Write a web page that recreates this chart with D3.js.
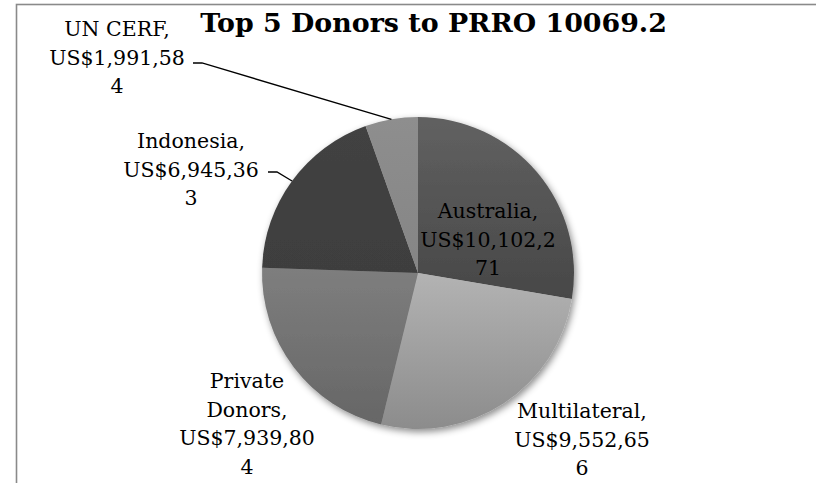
<!DOCTYPE html>
<html>
<head>
<meta charset="utf-8">
<script src="https://cdn.jsdelivr.net/npm/d3@7"></script>
<style>
  html, body { margin: 0; padding: 0; background: #fff; }
  svg { display: block; }
  text { font-family: "DejaVu Serif", Georgia, serif; fill: #000; }
</style>
</head>
<body>
<svg id="chart" width="816" height="483"></svg>
<script>
// Donor names and contributions (US$)
const donors = ["Australia", "Multilateral", "Private Donors", "Indonesia", "UN CERF"];
const amounts = [10102271, 9552656, 7939804, 6945363, 1991584];
const chartTitle = "Top 5 Donors to PRRO 10069.2";

// Slice shading: lighter at the top of each slice, darker at the bottom
const shadeTop = ["#616161", "#b3b3b3", "#7e7e7e", "#424242", "#8e8e8e"];
const shadeBottom = ["#474747", "#8c8c8c", "#666666", "#3e3e3e", "#858585"];

// Label placement: centre x and first baseline of each label block
const labelX = [488, 582, 247, 191, 117];
const labelY = [218, 418, 388, 148, 36];
// Leader line start (label side) for labels placed away from their slice
const leaderStart = [null, null, null, [268, 172], [193, 63]];

const svg = d3.select("#chart");
const W = 816, H = 483;
const cx = 418, cy = 273, radius = 156;
const fontSize = 20.5, lineGap = 28.5, wrapWidth = 140;

// Chart area frame
svg.append("rect")
  .attr("x", 16.5).attr("y", 4.5)
  .attr("width", W + 20).attr("height", H + 20)
  .attr("fill", "#fff")
  .attr("stroke", "#8a8a8a")
  .attr("stroke-width", 1.6);

const defs = svg.append("defs");
const shadow = defs.append("filter").attr("id", "pieShadow")
  .attr("x", "-20%").attr("y", "-20%").attr("width", "140%").attr("height", "140%");
shadow.append("feDropShadow")
  .attr("dx", 2).attr("dy", 3).attr("stdDeviation", 3.5)
  .attr("flood-color", "#000").attr("flood-opacity", 0.45);

donors.forEach((d, i) => {
  const g = defs.append("linearGradient").attr("id", "shade" + i)
    .attr("x1", 0).attr("y1", 0).attr("x2", 0).attr("y2", 1);
  g.append("stop").attr("offset", "0%").attr("stop-color", shadeTop[i]);
  g.append("stop").attr("offset", "100%").attr("stop-color", shadeBottom[i]);
});

const rows = donors.map((name, i) => ({ name, value: amounts[i], i }));
const pie = d3.pie().value(d => d.value).sort(null);
const arcs = pie(rows);
const arc = d3.arc().innerRadius(0).outerRadius(radius);

const pieG = svg.append("g")
  .attr("transform", `translate(${cx},${cy})`)
  .attr("filter", "url(#pieShadow)");

pieG.selectAll("path")
  .data(arcs)
  .join("path")
  .attr("d", arc)
  .attr("fill", d => `url(#shade${d.data.i})`);

// Title
const title = svg.append("text")
  .attr("x", 433.5).attr("y", 32)
  .attr("text-anchor", "middle")
  .attr("font-weight", "bold")
  .attr("font-size", 20)
  .text(chartTitle);
const tw = title.node().getComputedTextLength();
title.attr("font-size", 20 * 467 / tw);

// Wrap a label into lines no wider than wrapWidth, breaking long words by character
const measurer = svg.append("text").attr("font-size", fontSize).attr("opacity", 0);
function widthOf(s) { measurer.text(s); return measurer.node().getComputedTextLength(); }
function wrap(str) {
  const words = str.split(" ");
  const lines = [];
  let cur = "";
  words.forEach(w => {
    const trial = cur ? cur + " " + w : w;
    if (widthOf(trial) <= wrapWidth) { cur = trial; return; }
    if (cur) { lines.push(cur); cur = ""; }
    let piece = "";
    for (const ch of w) {
      if (widthOf(piece + ch) <= wrapWidth) piece += ch;
      else { lines.push(piece); piece = ch; }
    }
    cur = piece;
  });
  if (cur) lines.push(cur);
  return lines;
}
const money = d3.format(",");

// Leader lines from label to the middle of the slice's outer edge
const edge = d3.arc().innerRadius(radius).outerRadius(radius);
arcs.forEach(a => {
  const s = leaderStart[a.data.i];
  if (!s) return;
  const [ex, ey] = edge.centroid(a);
  svg.append("path")
    .attr("d", d3.line()([s, [s[0] + 9, s[1]], [cx + ex, cy + ey]]))
    .attr("fill", "none")
    .attr("stroke", "#000")
    .attr("stroke-width", 1.3);
});

// Data labels
arcs.forEach(a => {
  const i = a.data.i;
  const lines = wrap(`${a.data.name}, US$${money(a.data.value)}`);
  const t = svg.append("text")
    .attr("text-anchor", "middle")
    .attr("font-size", fontSize);
  lines.forEach((ln, k) => {
    t.append("tspan")
      .attr("x", labelX[i])
      .attr("y", labelY[i] + k * lineGap)
      .text(ln);
  });
});
measurer.remove();
</script>
</body>
</html>
